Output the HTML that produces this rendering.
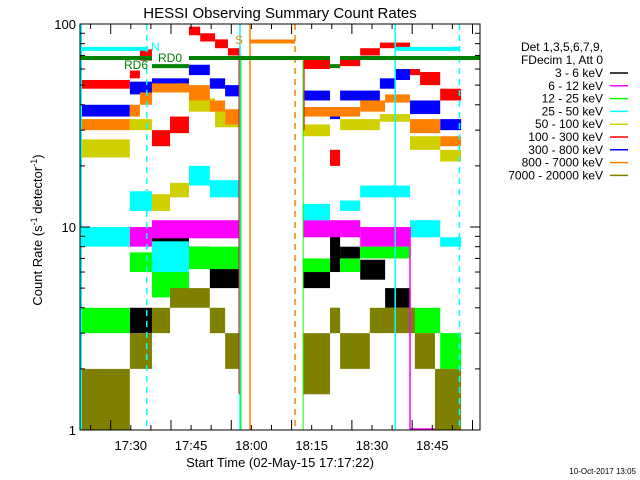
<!DOCTYPE html>
<html><head><meta charset="utf-8"><style>
body{margin:0;background:#fff;}
svg{display:block;font-family:"Liberation Sans",sans-serif;}
</style></head><body>
<svg id="chart" width="640" height="480" viewBox="0 0 640 480" xmlns="http://www.w3.org/2000/svg">
<rect width="640" height="480" fill="#fff"/>
<text x="280" y="18" font-size="15" text-anchor="middle">HESSI Observing Summary Count Rates</text>
<text transform="translate(42,230) rotate(-90)" font-size="13" text-anchor="middle">Count Rate (s<tspan dy="-5" font-size="9">-1</tspan><tspan dy="5"> detector</tspan><tspan dy="-5" font-size="9">-1</tspan><tspan dy="5">)</tspan></text>
<text x="280" y="467" font-size="13" text-anchor="middle">Start Time (02-May-15 17:17:22)</text>
<text x="636" y="474" font-size="8" text-anchor="end">10-Oct-2017 13:05</text>
<g id="series"></g>
<g id="deco"></g>
<g id="axes"></g>
<g id="legend"></g>
</svg>
<script>
// time in minutes since 17:17:22, values in counts/s/detector
const blackStart=[12.4,17.9,27.1,32.3,55.5,62.2,64.7,69.7,75.9];
const blackEnd=[17.9,27.1,32.3,39.8,62.2,64.7,69.7,75.9,82.1];
const blackLo=[3,6.9,7,5,5,6,7,5.5,4];
const blackHi=[4,8.9,8,6.9,6,9,8,6.9,5];
const magentaStart=[0,12.4,17.9,55.5,69.7,82.1];
const magentaEnd=[12.4,17.9,39.8,69.7,82.1,94.8];
const magentaLo=[1,8,8.8,8.9,8,1];
const magentaHi=[1.02,10,10.8,10.8,10,1.02];
const greenStart=[0,12.4,17.9,27.1,55.5,62.2,64.7,69.7,82.1,89.6];
const greenEnd=[12.4,17.9,27.1,39.8,62.2,64.7,69.7,82.1,89.6,94.8];
const greenLo=[3,6,4.5,6.2,6,3,6,7,3,2];
const greenHi=[4,7.5,6,8,7,4,7,8,4,3];
const cyanStart=[0,12.4,17.9,27.1,32.3,55.5,64.7,69.7,82.1,89.6];
const cyanEnd=[12.4,17.9,27.1,32.3,39.8,62.2,69.7,82.1,89.6,94.8];
const cyanLo=[8,12,6,16,14,10.8,12,14,8.9,8];
const cyanHi=[10,15,8.5,20,17,13,13.5,16,10.8,8.9];
const yellowStart=[0,12.4,17.9,22.4,27.1,33.6,55.5,64.7,74.6,82.1,89.6];
const yellowEnd=[12.4,17.9,22.4,27.1,33.6,39.8,62.2,74.6,82.1,89.6,94.8];
const yellowLo=[22,30,12,14,37,31,28,30,33,24,21];
const yellowHi=[27,34,14.5,16.5,43,38,32,34,36,28,24];
const redStart=[0,12.4,14.9,17.9,22.4,27.1,29.9,33.6,36.8,55.5,62.2,64.7,69.7,74.6,82.1,84.6,89.6];
const redEnd=[12.4,14.9,17.9,22.4,27.1,29.9,33.6,36.8,39.8,62.2,64.7,69.7,74.6,82.1,84.6,89.6,94.8];
const redLo=[48,54,66,25,29,88,82,76,70,60,20,62,70,76,56,50,42];
const redHi=[53,59,75,30,35,97,90,84,76,67,24,68,76,81,60,58,48];
const blueStart=[0,12.4,17.9,27.1,32.3,36.1,55.5,62.2,64.7,74.6,78.4,82.1,89.6];
const blueEnd=[12.4,17.9,27.1,32.3,36.1,39.8,62.2,64.7,74.6,78.4,82.1,89.6,94.8];
const blueLo=[35,45,48,56,48,44,42,34,42,48,53,36,30];
const blueHi=[40,52,54,63,54,50,47,37,47,54,60,42,34];
const orangeStart=[0,12.4,14.9,17.9,27.1,32.3,36.1,55.5,69.7,75.9,82.1,89.6];
const orangeEnd=[12.4,14.9,17.9,27.1,32.3,36.1,39.8,69.7,75.9,82.1,89.6,94.8];
const orangeLo=[30,35,40,46,42,37,32,35,37,41,29,25];
const orangeHi=[34,40,46,51,50,42,38,39,42,45,34,28];
const oliveStart=[0,12.4,17.9,22.4,32.3,36.1,55.5,62.2,64.7,72.1,83.3,88.3];
const oliveEnd=[12.4,17.9,22.4,32.3,36.1,39.8,62.2,64.7,72.1,83.3,88.3,94.8];
const oliveLo=[1,2,3,4,3,2,1.5,3,2,3,2,1];
const oliveHi=[2,3,4,5,4,3,3,4,3,4,3,2];
const legendLabels=["3 - 6 keV","6 - 12 keV","12 - 25 keV","25 - 50 keV","50 - 100 keV","100 - 300 keV","300 - 800 keV","800 - 7000 keV","7000 - 20000 keV"];
const xTickLabels=["17:30","17:45","18:00","18:15","18:30","18:45"];
const yTickLabels=["1","10","100"];

const NS="http://www.w3.org/2000/svg";
const X0=80,X1=480,Y0=430,Y1=24,PPM=4.02;
function xs(t){return X0+t*PPM;}
function ys(v){return Y0-(Y0-Y1)/2*Math.log10(v);}
function mk(tag,attrs,parent){const e=document.createElementNS(NS,tag);for(const k in attrs)e.setAttribute(k,attrs[k]);parent.appendChild(e);return e;}
const gS=document.getElementById('series'),gD=document.getElementById('deco'),gA=document.getElementById('axes'),gL=document.getElementById('legend');

const series=[
 ['black','#000',blackStart,blackEnd,blackLo,blackHi],
 ['magenta','#ff00ff',magentaStart,magentaEnd,magentaLo,magentaHi],
 ['green','#00ff00',greenStart,greenEnd,greenLo,greenHi],
 ['cyan','#00ffff',cyanStart,cyanEnd,cyanLo,cyanHi],
 ['yellow','#d0d000',yellowStart,yellowEnd,yellowLo,yellowHi],
 ['red','#ff0000',redStart,redEnd,redLo,redHi],
 ['blue','#0000ff',blueStart,blueEnd,blueLo,blueHi],
 ['orange','#ff8000',orangeStart,orangeEnd,orangeLo,orangeHi],
 ['olive','#808000',oliveStart,oliveEnd,oliveLo,oliveHi]
];
series.forEach(s=>{
 const g=mk('g',{},gS);
 
 
 for(let i=0;i<s[2].length;i++){
  const x1=xs(s[2][i]),x2=xs(s[3][i]),yt=ys(s[5][i]),yb=ys(s[4][i]);
  const r=mk('rect',{x:x1,y:yt,width:x2-x1,height:Math.max(2,yb-yt),fill:s[1]},g);
  
  
 }
});

// decorations
function line(x1,y1,x2,y2,c,w,dash,name){const l=mk('line',{x1,y1,x2,y2,stroke:c,'stroke-width':w},gD);if(dash)l.setAttribute('stroke-dasharray',dash);return l;}
line(xs(0)+1,Y1,xs(0)+1,Y0,'#00ffff',2,null,'saa-start-line');
line(xs(39.8),Y1,xs(39.8),Y0,'#00ffff',1.5,null,'night-start-line');
line(xs(39.8)+1,ys(70),xs(39.8)+1,Y0,'#00ff00',1,null,'data-end-line');
line(xs(39.8)-1,ys(70),xs(39.8)-1,ys(1.5),'#ff0000',1,null,'red-end-line');
line(xs(42.3),Y1,xs(42.3),Y0,'#ff8000',1.5,null,'saa-line');
line(xs(53.5),Y1,xs(53.5),Y0,'#ff8000',1.5,'6,5','saa-end-line');
line(xs(55.5),ys(66),xs(55.5),Y0,'#00ff00',1,null,'data-start-line');
line(xs(55.5)+1,ys(66),xs(55.5)+1,ys(30),'#ff0000',1,null,'red-start-line');
line(xs(78.4),Y1,xs(78.4),Y0,'#00ffff',1.5,null,'night-line');
line(xs(82.1),ys(10),xs(82.1),Y0,'#ff00ff',1.5,null,'magenta-drop-line');
line(xs(16.6),Y1,xs(16.6),Y0,'#00ffff',1.5,'6,5','cyan-dashed-line');
line(xs(94.4),Y1,xs(94.4),Y0,'#00ffff',1.5,'6,5','cyan-dashed-line-2');
line(xs(0),ys(75.4),xs(16.9),ys(75.4),'#00ffff',4,null,'n-flag-bar');
line(xs(78.4),ys(75.4),xs(94.4),ys(75.4),'#00ffff',4,null,'n-flag-bar-2');
line(xs(0),ys(68),xs(17.9),ys(68),'#008000',4,null,'rd6-bar');
line(xs(17.9),ys(62),xs(27.1),ys(62),'#008000',4,null,'rd0-bar');
line(xs(27.1),ys(68),xs(62.2),ys(68),'#008000',4,null,'rd-bar');
line(xs(62.2),ys(62),xs(64.7),ys(62),'#008000',4,null,'rd-bar-dip');
line(xs(64.7),ys(68),X1,ys(68),'#008000',4,null,'rd-bar-2');
line(xs(42.3),ys(82),xs(53.5),ys(82),'#ff8000',4,null,'s-flag-bar');
function txt(x,y,s,c,size,anchor,name){const t=mk('text',{x,y,fill:c,'font-size':size,'text-anchor':anchor||'start'},gD);t.textContent=s;return t;}
txt(151,51,'N','#00ffff',12,'start','n-flag-label');
txt(124,69,'RD6','#008000',12,'start','rd6-label');
txt(158,62,'RD0','#008000',12,'start','rd0-label');
txt(235,44,'S','#ff8000',12,'start','s-flag-label');

// axes
mk('rect',{x:X0,y:Y1,width:X1-X0,height:Y0-Y1,fill:'none',stroke:'#000','stroke-width':1},gA);
for(let m=0;m<=20;m++){
 const t=2.633+5*m; if(t>99.5) break;
 const x=xs(t), major=(m%3===1), L=major?10:5;
 mk('line',{x1:x,y1:Y0,x2:x,y2:Y0-L,stroke:'#000'},gA);
 mk('line',{x1:x,y1:Y1,x2:x,y2:Y1+L,stroke:'#000'},gA);
}
xTickLabels.forEach((s,i)=>{
 const t=mk('text',{x:xs(12.633+15*i),y:450,'font-size':13,'text-anchor':'middle'},gA);
 t.textContent=s;
 
 
});
for(let d=0;d<2;d++)for(let k=1;k<=10;k++){
 const v=k*Math.pow(10,d), y=ys(v), L=(k===1||k===10)?10:5;
 mk('line',{x1:X0,y1:y,x2:X0+L,y2:y,stroke:'#000'},gA);
 mk('line',{x1:X1,y1:y,x2:X1-L,y2:y,stroke:'#000'},gA);
}
yTickLabels.forEach((s,i)=>{
 const t=mk('text',{x:X0-4,y:ys(Math.pow(10,i))+5,'font-size':13,'text-anchor':'end'},gA);
 t.textContent=s;
 
 
});

// legend
function ltxt(y,s,name){const t=mk('text',{x:603,y,'font-size':12,'text-anchor':'end'},gL);t.textContent=s;}
ltxt(51,'Det 1,3,5,6,7,9,','legend-detectors');
ltxt(64,'FDecim 1, Att 0','legend-fdecim');
legendLabels.forEach((s,i)=>{
 const y=77+i*12.8;
 ltxt(y,s,'legend-entry');
 const l=mk('line',{x1:610,y1:y-4,x2:628,y2:y-4,stroke:series[i][1],'stroke-width':1.5},gL);
 
 
});
</script>
</body></html>
